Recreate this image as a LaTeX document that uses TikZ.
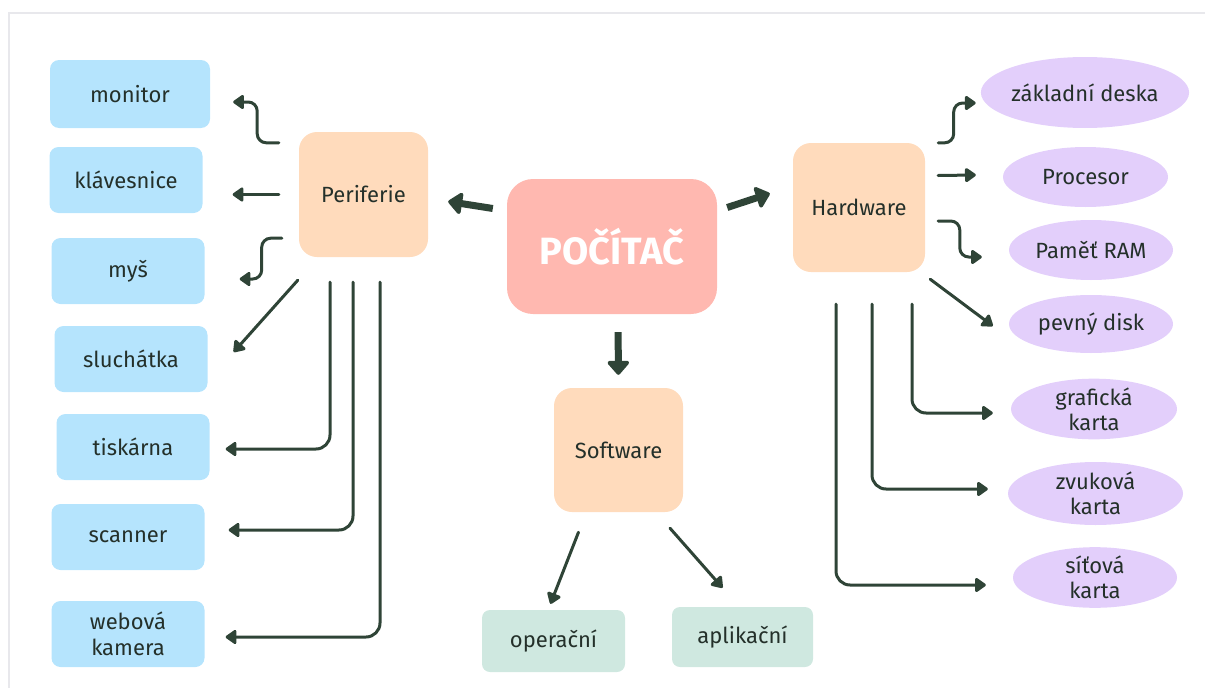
\documentclass[tikz,border=0pt]{standalone}
\usepackage{fontspec}
\setmainfont{Fira Sans}
\usetikzlibrary{arrows.meta,positioning,shapes.geometric}

\definecolor{inkgreen}{HTML}{24302A}
\definecolor{arrowgreen}{HTML}{2F4437}
\definecolor{skyblue}{HTML}{B5E4FD}
\definecolor{peach}{HTML}{FFDBBC}
\definecolor{salmon}{HTML}{FFB8B0}
\definecolor{mint}{HTML}{CFE8E0}
\definecolor{lavender}{HTML}{E3CFFB}
\definecolor{framegray}{HTML}{E8E8EC}

\begin{document}
\begin{tikzpicture}[x=1pt,y=-1pt]
\tikzset{
  bluebox/.style={rectangle,rounded corners=9pt,fill=skyblue,text=inkgreen,minimum width=153pt,minimum height=66pt,inner sep=2pt,align=center,font=\fontsize{22}{26}\selectfont},
  partbox/.style={rectangle,rounded corners=18pt,fill=peach,text=inkgreen,minimum width=129pt,minimum height=125pt,inner sep=2pt,font=\fontsize{22}{26}\selectfont},
  rootbox/.style={rectangle,rounded corners=26pt,fill=salmon,text=white,minimum width=210pt,minimum height=135pt,font=\fontsize{38}{42}\selectfont\bfseries},
  mintbox/.style={rectangle,rounded corners=8pt,fill=mint,text=inkgreen,minimum width=143pt,minimum height=62pt,inner sep=2pt,font=\fontsize{22}{26}\selectfont},
  lavnode/.style={ellipse,fill=lavender,text=inkgreen,minimum width=164pt,minimum height=60pt,inner sep=0pt,align=center,font=\fontsize{22}{25}\selectfont},
  thinarrow/.style={draw=arrowgreen,line width=3pt,line cap=round,-{Triangle[length=12pt,width=16pt,round]}},
  bigarrow/.style={draw=arrowgreen,line width=7pt,-{Triangle[length=15pt,width=25pt,round]}}
}
\useasboundingbox (0,0) rectangle (1205,688);
\draw[framegray,line width=2pt] (1205,13) -- (9,13) -- (9,688);

\node[bluebox,minimum width=160pt,minimum height=68pt] (n_monitor) at (130,94) {monitor};
\node[bluebox] (n_klav) at (126,180) {klávesnice};
\node[bluebox] (n_mys) at (128,271) {myš};
\node[bluebox] (n_sluch) at (131,359) {sluchátka};
\node[bluebox] (n_tisk) at (133,447) {tiskárna};
\node[bluebox] (n_scan) at (128,537) {scanner};
\node[bluebox] (n_web) at (128,634) {webová\\kamera};

\node[partbox] (n_peri) at (363.5,194.5) {Periferie};
\node[rootbox] (n_pc) at (612,246.5) {POČÍTAČ};
\node[partbox,minimum height=124pt] (n_soft) at (618.5,450) {Software};
\node[partbox,minimum width=132pt,minimum height=129pt] (n_hard) at (859,207.5) {Hardware};
\node[mintbox] (n_oper) at (553.5,641) {operační};
\node[mintbox,minimum width=141pt,minimum height=60pt] (n_apl) at (742.5,637) {aplikační};

\node[lavnode,minimum width=196pt,minimum height=71pt] (n_deska) at (1085,92.5) {základní deska};
\node[lavnode,minimum width=165pt] (n_cpu) at (1085.5,177) {Procesor};
\node[lavnode] (n_ram) at (1091,250) {Paměť RAM};
\node[lavnode,minimum height=58pt] (n_disk) at (1091,324) {pevný disk};
\node[lavnode,minimum width=166pt] (n_graf) at (1094,409) {grafická\\karta};
\node[lavnode,minimum width=175pt,minimum height=63pt] (n_zvuk) at (1095.5,493.5) {zvuková\\karta};
\node[lavnode,minimum height=59pt] (n_sit) at (1095,577.5) {síťová\\karta};

\draw[bigarrow] ([shift={(-14pt,38pt)}]n_pc.west) -- ([shift={(20pt,-7pt)}]n_peri.east);
\draw[bigarrow] ([shift={(10pt,39pt)}]n_pc.east) -- ([shift={(-23pt,14pt)}]n_hard.west);
\draw[bigarrow,shorten <=18pt,shorten >=13pt] ([xshift=6pt]n_pc.south) -- (n_soft.north);

\draw[thinarrow,rounded corners=9pt,shorten >=23pt] ([shift={(-20pt,-11pt)}]n_peri.north west) -| ([shift={(47pt,-8pt)}]n_monitor.east) -- ([yshift=-8pt]n_monitor.east);
\draw[thinarrow,shorten <=20pt,shorten >=30pt] (n_peri.west) -- (n_peri.west -| n_klav.east);
\draw[thinarrow,rounded corners=9pt,shorten >=35pt] ([shift={(-17pt,19pt)}]n_peri.south west) -| ([shift={(57pt,-8pt)}]n_mys.east) -- ([yshift=-8pt]n_mys.east);
\draw[thinarrow] ([shift={(-1pt,-23pt)}]n_peri.south west) -- ([shift={(26pt,7pt)}]n_sluch.east);
\draw[thinarrow,rounded corners=14pt,shorten <=25pt,shorten >=16pt] ([xshift=-33.5pt]n_peri.south) |- ([yshift=-2pt]n_tisk.east);
\draw[thinarrow,rounded corners=14pt,shorten <=25pt,shorten >=24pt] ([xshift=-10.5pt]n_peri.south) |- ([yshift=7pt]n_scan.east);
\draw[thinarrow,rounded corners=14pt,shorten <=25pt,shorten >=21pt] ([xshift=16.5pt]n_peri.south) |- ([yshift=-3pt]n_web.east);

\draw[thinarrow] ([shift={(-40pt,-20pt)}]n_soft.south) -- ([shift={(-3pt,6pt)}]n_oper.north);
\draw[thinarrow] ([shift={(51.5pt,-16pt)}]n_soft.south) -- ([shift={(-20pt,19pt)}]n_apl.north);

\draw[thinarrow,rounded corners=9pt,shorten >=5pt] ([xshift=13pt]n_hard.north east) -| ([shift={(-27pt,-10.5pt)}]n_deska.west) -- ([yshift=-10.5pt]n_deska.west);
\draw[thinarrow] ([shift={(13pt,32pt)}]n_hard.east) -- ([shift={(-27pt,2pt)}]n_cpu.west);
\draw[thinarrow,rounded corners=9pt,shorten >=27pt] ([shift={(13pt,-13.5pt)}]n_hard.east) -| ([shift={(-49pt,-7pt)}]n_ram.west) -- ([yshift=-7pt]n_ram.west);
\draw[thinarrow] ([shift={(5pt,-7pt)}]n_hard.south east) -- ([shift={(-16pt,-2pt)}]n_disk.west);
\draw[thinarrow,rounded corners=14pt,shorten <=32pt,shorten >=18pt] ([xshift=53pt]n_hard.south) |- ([yshift=-4pt]n_graf.west);
\draw[thinarrow,rounded corners=14pt,shorten <=32pt,shorten >=20pt] ([xshift=13pt]n_hard.south) |- ([yshift=4.5pt]n_zvuk.west);
\draw[thinarrow,rounded corners=14pt,shorten <=32pt,shorten >=27pt] ([xshift=-23pt]n_hard.south) |- ([yshift=-7.5pt]n_sit.west);
\end{tikzpicture}
\end{document}
